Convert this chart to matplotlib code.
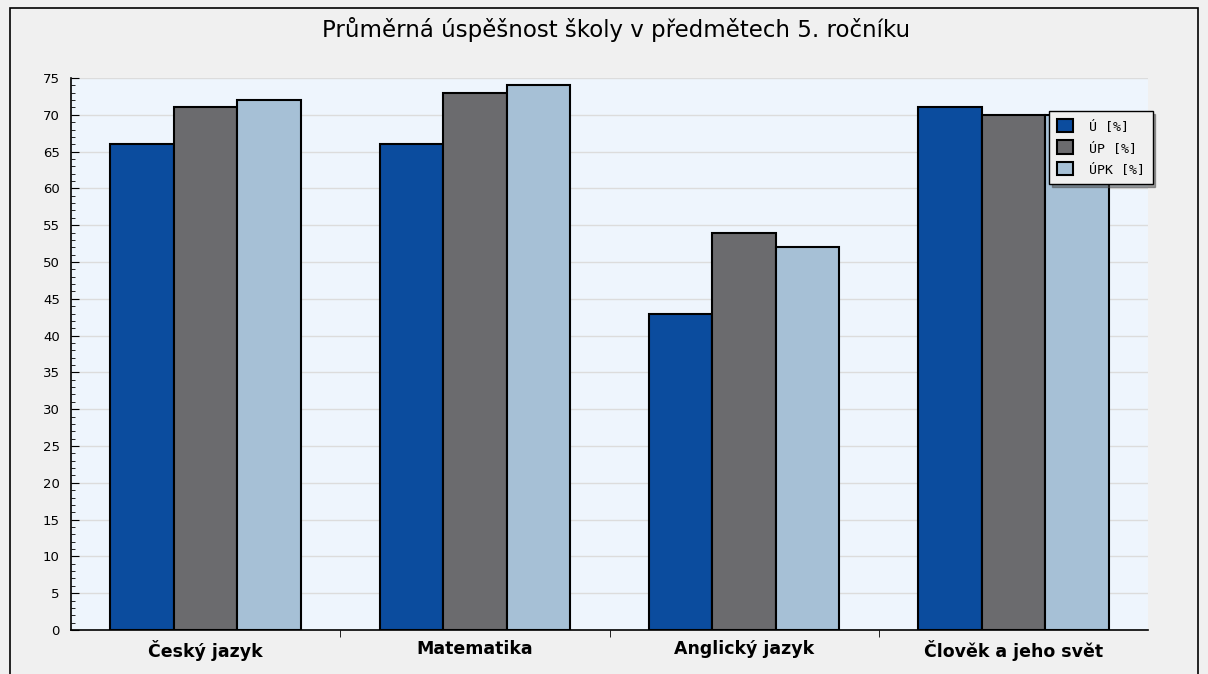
import numpy as np
import matplotlib.pyplot as plt
from matplotlib.patches import Rectangle
from matplotlib.ticker import MultipleLocator

categories = ['Český jazyk', 'Matematika', 'Anglický jazyk', 'Člověk a jeho svět']
series_names = ['Ú [%]', 'ÚP [%]', 'ÚPK [%]']
u_vals = [66, 66, 43, 71]
up_vals = [71, 73, 54, 70]
upk_vals = [72, 74, 52, 70]
colors = ['#0b4c9e', '#6b6b6e', '#a6c0d6']

fig = plt.figure(figsize=(12.08, 6.74), dpi=100)
fig.patch.set_facecolor('#f0f0f0')

# outer frame (bottom edge runs off the image)
fig.patches.append(Rectangle((10 / 1208, -0.01), 1188 / 1208, 1.01 - 8 / 674,
                             transform=fig.transFigure, fill=False,
                             edgecolor='black', linewidth=1.2))

ax = fig.add_axes([71 / 1208, 1 - 630 / 674, 1077 / 1208, 552 / 674])
ax.set_facecolor('#eef5fd')

x = np.arange(len(categories))
w = 0.236
for k, vals in enumerate([u_vals, up_vals, upk_vals]):
    ax.bar(x + (k - 1) * w, vals, width=w, color=colors[k],
           edgecolor='black', linewidth=1.5, label=series_names[k], zorder=3)

ax.set_xlim(-0.5, len(categories) - 0.5)
ax.set_ylim(0, 75)
ax.yaxis.set_major_locator(MultipleLocator(5))
ax.yaxis.set_minor_locator(MultipleLocator(1))
ax.grid(axis='y', color='#dcdcdc', linewidth=1, zorder=0)
ax.tick_params(axis='y', which='major', direction='in', length=6, labelsize=9.5,
               colors='black', pad=8)
ax.tick_params(axis='y', which='minor', direction='in', length=3)

ax.set_xticks(x)
ax.set_xticklabels(categories, fontsize=12.5, fontweight='bold')
ax.tick_params(axis='x', which='major', length=0, pad=7)
ax.set_xticks(np.arange(len(categories) - 1) + 0.5, minor=True)
ax.tick_params(axis='x', which='minor', direction='out', length=5)

for s in ['top', 'right']:
    ax.spines[s].set_visible(False)
ax.spines['left'].set_linewidth(1.2)
ax.spines['bottom'].set_linewidth(1.2)

fig.text(616 / 1208, 1 - 30 / 674, 'Průměrná úspěšnost školy v předmětech 5. ročníku',
         ha='center', va='center', fontsize=16.5)

leg = ax.legend(loc='upper left', bbox_to_anchor=((1049 - 71) / 1077, (630 - 111) / 552),
                frameon=True, fancybox=False, shadow=True,
                prop={'family': 'DejaVu Sans Mono', 'size': 9.5},
                handlelength=1.2, handleheight=1.2, handletextpad=1.2,
                borderpad=0.6, labelspacing=0.55, borderaxespad=0)
leg.get_frame().set_edgecolor('black')
leg.get_frame().set_facecolor('#f0f0f0')
leg.get_frame().set_linewidth(1)
leg.set_zorder(5)

fig.savefig('out.png', dpi=100, facecolor=fig.get_facecolor())
